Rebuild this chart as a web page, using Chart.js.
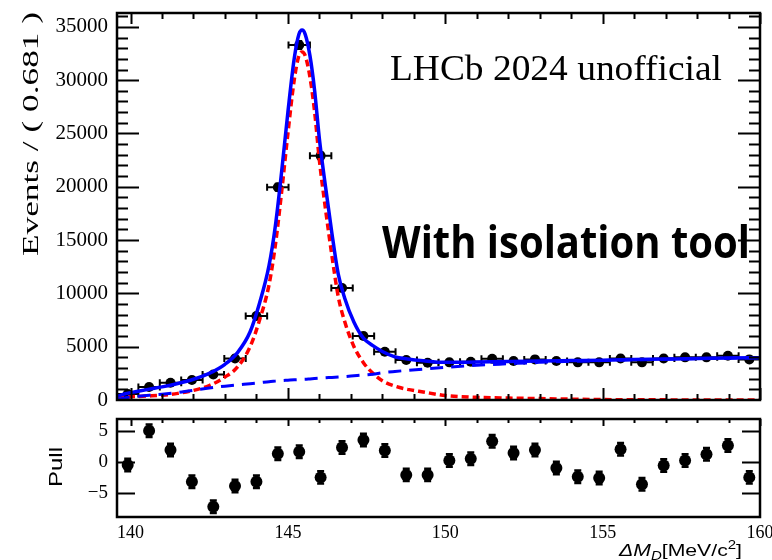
<!DOCTYPE html>
<html lang="en">
<head>
<meta charset="UTF-8">
<title>Delta M fit with pulls</title>
<script src="https://cdn.jsdelivr.net/npm/chart.js@4.4.0/dist/chart.umd.min.js"></script>
<style>
  body { margin: 0; background: #fff; }
  #wrap { position: relative; width: 772px; height: 560px; background: #fff; overflow: hidden; }
  canvas { position: absolute; left: 0; }
  #top { top: 0; }
  #pull { top: 410px; }
</style>
</head>
<body>
<div id="wrap">
  <canvas id="top" width="772" height="412"></canvas>
  <canvas id="pull" width="772" height="150"></canvas>
</div>
<script>
// binning: 30 bins of 0.681 from 139.57 to 160
const xMin = 139.57, xMax = 160, binWidth = 0.681;
const binCenters = [139.91, 140.59, 141.27, 141.95, 142.63, 143.32, 144.00, 144.68, 145.36, 146.04,
                    146.72, 147.40, 148.08, 148.76, 149.44, 150.13, 150.81, 151.49, 152.17, 152.85,
                    153.53, 154.21, 154.89, 155.57, 156.25, 156.94, 157.62, 158.30, 158.98, 159.66];
const counts = [560, 1220, 1625, 1875, 2400, 3900, 7875, 19950, 33300, 22900,
                10500, 6000, 4530, 3750, 3500, 3530, 3590, 3875, 3650, 3810,
                3650, 3530, 3530, 3900, 3530, 3900, 4000, 4000, 4150, 3810];
const pulls = [-0.5, 5.0, 1.9, -3.2, -7.2, -3.9, -3.2, 1.3, 1.6, -2.5,
               2.3, 3.5, 1.8, -2.1, -2.1, 0.2, 0.5, 3.3, 1.4, 1.9,
               -1.0, -2.4, -2.6, 2.0, -3.6, -0.6, 0.2, 1.2, 2.6, -2.5];

// fit curves
const curveX = [139.57, 139.8, 140.2, 140.6, 141.0, 141.5, 142.0, 142.5, 143.0, 143.4,
                143.8, 144.1, 144.4, 144.6, 144.8, 145.0, 145.2, 145.35, 145.45, 145.55,
                145.7, 145.85, 146.0, 146.2, 146.4, 146.6, 146.8, 147.1, 147.4, 147.7,
                148.0, 148.4, 148.8, 149.3, 150, 151, 152, 153, 154, 155,
                156, 157, 158, 159, 160];
const totalFit = [330, 560, 800, 1020, 1230, 1550, 1950, 2500, 3350, 4450,
                  6400, 9100, 12600, 16300, 21400, 27000, 32000, 34300, 34700, 34300,
                  32300, 29000, 24500, 19900, 15600, 11800, 9600, 7300, 5800, 5100,
                  4550, 4050, 3850, 3680, 3530, 3570, 3600, 3660, 3700, 3740,
                  3790, 3840, 3890, 3930, 3960];
const signalFit = [300, 300, 330, 380, 450, 620, 900, 1350, 2150, 3100,
                   5000, 7500, 10800, 14500, 19500, 25000, 30000, 32300, 32650, 32300,
                   30300, 27000, 22500, 17800, 13500, 9700, 7400, 5000, 3500, 2500,
                   1800, 1300, 1000, 750, 420, 250, 180, 130, 80, 40,
                   20, 12, 8, 5, 3];
const backgroundFit = [0, 200, 350, 450, 540, 700, 900, 1120, 1300, 1420,
                       1530, 1620, 1720, 1770, 1820, 1860, 1900, 1920, 1940, 1950,
                       1980, 2010, 2040, 2080, 2120, 2160, 2200, 2270, 2340, 2420,
                       2560, 2680, 2780, 2900, 3060, 3260, 3400, 3530, 3620, 3700,
                       3770, 3830, 3880, 3925, 3955];

const yTicksTop = [0, 5000, 10000, 15000, 20000, 25000, 30000, 35000];
const yTicksPull = [-5, 0, 5];
const xTicksPull = [140, 145, 150, 155, 160];

function pts(xs, ys) { return xs.map((x, i) => ({ x: x, y: ys[i] })); }

// draws text squeezed/stretched to a given length
function fitText(ctx, txt, font, x, y, len, angle) {
  ctx.save();
  ctx.font = font;
  const w = ctx.measureText(txt).width;
  ctx.translate(x, y);
  if (angle) ctx.rotate(angle);
  ctx.scale(len / w, 1);
  ctx.textBaseline = 'alphabetic';
  ctx.textAlign = 'left';
  ctx.fillStyle = '#000';
  ctx.fillText(txt, 0, 0);
  ctx.restore();
}

// ROOT-like frame with inward ticks on all sides
function framePlugin(cfg) {
  return {
    id: 'frame',
    afterDraw(chart) {
      const ctx = chart.ctx, a = chart.chartArea, xs = chart.scales.x, ys = chart.scales.y;
      ctx.save();
      ctx.strokeStyle = '#000';
      ctx.lineWidth = 2;
      ctx.beginPath();
      if (cfg.yMinorStep) {
        for (let v = cfg.yMinorStep; v <= ys.max; v += cfg.yMinorStep) {
          const major = Math.abs(v % cfg.yMajorStep) < 1e-6;
          const len = major ? cfg.yMajLen : cfg.yMinLen;
          const p = Math.round(ys.getPixelForValue(v)) + 0.5;
          ctx.moveTo(a.left, p); ctx.lineTo(a.left + len, p);
          ctx.moveTo(a.right, p); ctx.lineTo(a.right - len, p);
        }
      }
      if (cfg.yOnly) {
        // pull panel: only the labelled ticks
        cfg.yOnly.forEach(v => {
          const p = Math.round(ys.getPixelForValue(v)) + 0.5;
          ctx.moveTo(a.left, p); ctx.lineTo(a.left + cfg.yMajLen, p);
          ctx.moveTo(a.right, p); ctx.lineTo(a.right - cfg.yMajLen, p);
        });
      }
      for (let v = 140; v <= 160; v += 1) {
        const major = v % 5 === 0;
        const p = Math.round(xs.getPixelForValue(v)) + 0.5;
        const lt = major ? cfg.xTopMaj : cfg.xTopMin;
        const lb = major ? cfg.xBotMaj : cfg.xBotMin;
        if (lt) { ctx.moveTo(p, a.top); ctx.lineTo(p, a.top + lt); }
        if (lb) { ctx.moveTo(p, a.bottom); ctx.lineTo(p, a.bottom - lb); }
      }
      ctx.stroke();
      ctx.lineWidth = 2.5;
      ctx.strokeRect(a.left, a.top, a.right - a.left, a.bottom - a.top);
      ctx.restore();
    }
  };
}

const errorBarsTop = {
  id: 'errTop',
  beforeDatasetsDraw(chart) {
    const ctx = chart.ctx, xs = chart.scales.x, ys = chart.scales.y;
    ctx.save();
    ctx.strokeStyle = '#000';
    ctx.lineWidth = 2;
    ctx.beginPath();
    binCenters.forEach((c, i) => {
      const py = ys.getPixelForValue(counts[i]);
      const xl = xs.getPixelForValue(c - binWidth / 2), xr = xs.getPixelForValue(c + binWidth / 2);
      const px = xs.getPixelForValue(c);
      const e = Math.sqrt(counts[i]);
      const yt = ys.getPixelForValue(counts[i] + e), yb = ys.getPixelForValue(counts[i] - e);
      ctx.moveTo(xl, py); ctx.lineTo(xr, py);
      ctx.moveTo(xl, py - 3.5); ctx.lineTo(xl, py + 3.5);
      ctx.moveTo(xr, py - 3.5); ctx.lineTo(xr, py + 3.5);
      ctx.moveTo(px, yt - 2); ctx.lineTo(px, yb + 2);
      ctx.moveTo(px - 3, yt - 2); ctx.lineTo(px + 3, yt - 2);
      ctx.moveTo(px - 3, yb + 2); ctx.lineTo(px + 3, yb + 2);
    });
    ctx.stroke();
    ctx.restore();
  }
};

const errorBarsPull = {
  id: 'errPull',
  beforeDatasetsDraw(chart) {
    const ctx = chart.ctx, xs = chart.scales.x, ys = chart.scales.y;
    ctx.save();
    ctx.strokeStyle = '#000';
    ctx.lineWidth = 2.5;
    ctx.beginPath();
    binCenters.forEach((c, i) => {
      const px = xs.getPixelForValue(c);
      const yt = ys.getPixelForValue(pulls[i] + 1), yb = ys.getPixelForValue(pulls[i] - 1);
      ctx.moveTo(px, yt); ctx.lineTo(px, yb);
      ctx.moveTo(px - 3.5, yt); ctx.lineTo(px + 3.5, yt);
      ctx.moveTo(px - 3.5, yb); ctx.lineTo(px + 3.5, yb);
    });
    ctx.stroke();
    ctx.restore();
  }
};

const textTop = {
  id: 'textTop',
  afterDraw(chart) {
    const ctx = chart.ctx;
    fitText(ctx, 'Events / ( 0.681 )', '23px "Liberation Serif"', 38, 256, 244, -Math.PI / 2);
    fitText(ctx, 'LHCb 2024 unofficial', '35px "Liberation Serif"', 390, 80, 332);
    fitText(ctx, 'With isolation tool', 'bold 45px "Open Sans"', 382, 258, 368);
  }
};

const textPull = {
  id: 'textPull',
  afterDraw(chart) {
    const ctx = chart.ctx;
    fitText(ctx, 'Pull', '19px "Liberation Sans"', 62, 487 - 410, 40, -Math.PI / 2);
    // x title: ΔM_D[MeV/c^2]
    const base = 556 - 410;
    const parts = [
      { t: 'Δ', f: 'italic 17px "Liberation Sans"', dy: 0 },
      { t: 'M', f: 'italic 17px "Liberation Sans"', dy: 0 },
      { t: 'D', f: 'italic 12px "Liberation Sans"', dy: 4 },
      { t: '[MeV/c', f: '17px "Liberation Sans"', dy: 0 },
      { t: '2', f: '12px "Liberation Sans"', dy: -7 },
      { t: ']', f: '17px "Liberation Sans"', dy: 0 }
    ];
    ctx.save();
    let total = 0;
    parts.forEach(p => { ctx.font = p.f; p.w = ctx.measureText(p.t).width; total += p.w; });
    const x0 = 619, sx = (742 - 619) / total;
    ctx.translate(x0, base);
    ctx.scale(sx, 1);
    ctx.fillStyle = '#000';
    ctx.textBaseline = 'alphabetic';
    let cx = 0;
    parts.forEach(p => { ctx.font = p.f; ctx.fillText(p.t, cx, p.dy); cx += p.w; });
    ctx.restore();
  }
};

Chart.defaults.font.family = '"Liberation Serif"';
Chart.defaults.color = '#000';

new Chart(document.getElementById('top'), {
  type: 'scatter',
  data: {
    datasets: [
      { label: 'total', data: pts(curveX, totalFit), showLine: true, borderColor: '#0000ff',
        borderWidth: 3.5, pointRadius: 0, tension: 0.4, cubicInterpolationMode: 'monotone', order: 0 },
      { label: 'background', data: pts(curveX, backgroundFit), showLine: true, borderColor: '#0000ff',
        borderWidth: 3, borderDash: [13, 8], pointRadius: 0, cubicInterpolationMode: 'monotone', order: 1 },
      { label: 'signal', data: pts(curveX, signalFit), showLine: true, borderColor: '#ff0000',
        borderWidth: 3.5, borderDash: [7, 4], pointRadius: 0, cubicInterpolationMode: 'monotone', order: 2 },
      { label: 'data', data: pts(binCenters, counts), pointRadius: 5, pointBackgroundColor: '#000',
        pointBorderColor: '#000', pointBorderWidth: 0, order: 3 }
    ]
  },
  options: {
    responsive: false, animation: false, devicePixelRatio: 1,
    layout: { padding: { top: 13, right: 12, bottom: 12, left: 0 } },
    plugins: { legend: { display: false }, tooltip: { enabled: false } },
    scales: {
      x: { type: 'linear', min: xMin, max: xMax, display: false },
      y: {
        type: 'linear', min: 0, max: 36300,
        grid: { display: false, drawTicks: false }, border: { display: false },
        ticks: { font: { size: 21 }, color: '#000', padding: 9, callback: v => String(v) },
        afterBuildTicks(s) { s.ticks = yTicksTop.map(v => ({ value: v })); },
        afterFit(s) { s.width = 117; s.paddingTop = 0; s.paddingBottom = 0; }
      }
    }
  },
  plugins: [errorBarsTop, framePlugin({ yMinorStep: 1000, yMajorStep: 5000, yMajLen: 22, yMinLen: 11,
    xTopMaj: 11, xTopMin: 6, xBotMaj: 12, xBotMin: 6 }), textTop]
});

new Chart(document.getElementById('pull'), {
  type: 'scatter',
  data: {
    datasets: [
      { label: 'pull', data: pts(binCenters, pulls), pointRadius: 6, pointBackgroundColor: '#000',
        pointBorderColor: '#000', pointBorderWidth: 0 }
    ]
  },
  options: {
    responsive: false, animation: false, devicePixelRatio: 1,
    layout: { padding: { top: 9, right: 12, bottom: 0, left: 0 } },
    plugins: { legend: { display: false }, tooltip: { enabled: false } },
    scales: {
      x: {
        type: 'linear', min: xMin, max: xMax,
        grid: { display: false, drawTicks: false }, border: { display: false },
        ticks: { font: { size: 18 }, color: '#000', padding: 5, maxRotation: 0, autoSkip: false, callback: v => String(v) },
        afterBuildTicks(s) { s.ticks = xTicksPull.map(v => ({ value: v })); },
        afterFit(s) { s.height = 43; s.paddingLeft = 0; s.paddingRight = 0; }
      },
      y: {
        type: 'linear', min: -8.86, max: 6.87,
        grid: { display: false, drawTicks: false }, border: { display: false },
        ticks: { font: { size: 19 }, color: '#000', padding: 9, callback: v => (v < 0 ? '\u2212' + Math.abs(v) : String(v)) },
        afterBuildTicks(s) { s.ticks = yTicksPull.map(v => ({ value: v })); },
        afterFit(s) { s.width = 117; s.paddingTop = 0; s.paddingBottom = 0; }
      }
    }
  },
  plugins: [errorBarsPull, framePlugin({ yOnly: yTicksPull, yMajLen: 18,
    xTopMaj: 7, xTopMin: 4, xBotMaj: 0, xBotMin: 0 }), textPull]
});
</script>
</body>
</html>
